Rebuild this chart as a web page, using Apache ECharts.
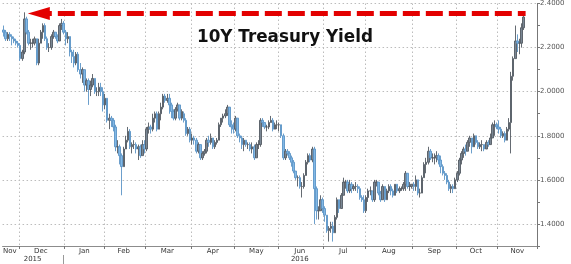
<!DOCTYPE html>
<html>
<head>
<meta charset="utf-8">
<script src="https://cdn.jsdelivr.net/npm/echarts@6/dist/echarts.min.js"></script>
<style>
html,body{margin:0;padding:0;background:#fff;}
#chart{width:571px;height:264px;}
</style>
</head>
<body>
<div id="chart"></div>
<script>
// Daily bars: [open, close, low, high]
const nov15 = [
[2.28,2.27,2.25,2.30],[2.27,2.24,2.23,2.28],[2.24,2.26,2.23,2.27],[2.26,2.25,2.23,2.27],
[2.25,2.24,2.21,2.26],[2.24,2.23,2.22,2.25],[2.23,2.22,2.21,2.24],[2.22,2.21,2.20,2.23]
];
const dec15 = [
[2.21,2.15,2.14,2.22],[2.15,2.18,2.14,2.19],[2.18,2.33,2.17,2.36],[2.33,2.27,2.26,2.34],
[2.27,2.22,2.21,2.28],[2.22,2.22,2.19,2.24],[2.22,2.22,2.20,2.24],[2.22,2.24,2.21,2.25],
[2.24,2.13,2.12,2.24],[2.13,2.22,2.12,2.24],[2.22,2.27,2.22,2.28],[2.27,2.30,2.24,2.31],
[2.30,2.24,2.23,2.31],[2.24,2.20,2.19,2.25],[2.20,2.20,2.18,2.22],[2.20,2.25,2.19,2.26],
[2.25,2.27,2.24,2.28],[2.27,2.25,2.24,2.27],[2.25,2.23,2.22,2.26],[2.23,2.30,2.23,2.31],
[2.30,2.31,2.28,2.33],[2.31,2.27,2.26,2.32]
];
const jan16 = [
[2.27,2.24,2.21,2.28],[2.24,2.25,2.22,2.27],[2.25,2.18,2.16,2.25],[2.18,2.16,2.13,2.19],
[2.16,2.13,2.11,2.19],[2.13,2.17,2.12,2.18],[2.17,2.10,2.09,2.18],[2.10,2.08,2.06,2.13],
[2.08,2.10,2.04,2.11],[2.10,2.03,2.00,2.10],[2.03,2.05,2.00,2.06],[2.05,2.01,1.94,2.06],
[2.01,2.03,1.98,2.05],[2.03,2.06,2.02,2.08],[2.06,2.00,1.99,2.06],[2.00,2.00,1.98,2.02],
[2.00,2.02,1.98,2.04],[2.02,2.00,1.98,2.04],[2.00,1.94,1.91,2.02]
];
const feb16 = [
[1.94,1.97,1.92,1.99],[1.97,1.87,1.86,1.97],[1.87,1.88,1.83,1.90],[1.88,1.87,1.84,1.89],
[1.87,1.84,1.82,1.88],[1.84,1.75,1.73,1.85],[1.75,1.75,1.72,1.78],[1.75,1.71,1.67,1.76],
[1.71,1.66,1.53,1.72],[1.66,1.74,1.66,1.75],[1.74,1.78,1.74,1.80],[1.78,1.82,1.77,1.84],
[1.82,1.75,1.74,1.83],[1.75,1.76,1.72,1.77],[1.76,1.76,1.74,1.78],[1.76,1.74,1.72,1.77],
[1.74,1.75,1.69,1.76],[1.75,1.71,1.70,1.76],[1.71,1.76,1.71,1.78],[1.76,1.74,1.72,1.78]
];
const mar16 = [
[1.74,1.83,1.73,1.84],[1.83,1.84,1.81,1.86],[1.84,1.83,1.81,1.85],[1.83,1.88,1.82,1.90],
[1.88,1.90,1.86,1.91],[1.90,1.83,1.82,1.91],[1.83,1.90,1.83,1.91],[1.90,1.93,1.87,1.95],
[1.93,1.98,1.92,1.99],[1.98,1.96,1.95,1.99],[1.96,1.97,1.95,1.99],[1.97,1.94,1.90,1.99],
[1.94,1.91,1.88,1.95],[1.91,1.88,1.87,1.92],[1.88,1.92,1.87,1.93],[1.92,1.94,1.91,1.95],
[1.94,1.88,1.87,1.94],[1.88,1.91,1.87,1.92],[1.90,1.87,1.86,1.91],[1.87,1.81,1.80,1.88],
[1.81,1.83,1.80,1.84],[1.83,1.78,1.77,1.84]
];
const apr16 = [
[1.78,1.79,1.76,1.81],[1.79,1.78,1.76,1.80],[1.78,1.73,1.72,1.79],[1.73,1.76,1.72,1.77],
[1.76,1.70,1.69,1.76],[1.70,1.72,1.69,1.73],[1.72,1.73,1.71,1.74],[1.73,1.78,1.72,1.79],
[1.78,1.77,1.75,1.80],[1.77,1.79,1.76,1.81],[1.79,1.75,1.74,1.79],[1.75,1.77,1.74,1.78],
[1.77,1.78,1.76,1.79],[1.78,1.85,1.78,1.86],[1.85,1.88,1.84,1.88],[1.88,1.89,1.86,1.90],
[1.89,1.90,1.88,1.92],[1.90,1.93,1.89,1.94],[1.93,1.85,1.84,1.93],[1.85,1.84,1.81,1.87],
[1.84,1.83,1.81,1.86]
];
const may16 = [
[1.83,1.88,1.82,1.89],[1.88,1.80,1.79,1.88],[1.80,1.79,1.77,1.81],[1.79,1.76,1.74,1.80],
[1.76,1.78,1.73,1.79],[1.78,1.76,1.75,1.78],[1.76,1.76,1.74,1.77],[1.76,1.74,1.73,1.77],
[1.74,1.75,1.72,1.77],[1.75,1.70,1.69,1.76],[1.70,1.76,1.70,1.77],[1.76,1.76,1.74,1.78],
[1.76,1.87,1.75,1.88],[1.87,1.86,1.84,1.88],[1.86,1.84,1.83,1.86],[1.84,1.84,1.82,1.85],
[1.84,1.86,1.83,1.87],[1.86,1.87,1.86,1.89],[1.87,1.83,1.82,1.88],[1.83,1.85,1.83,1.86],
[1.85,1.85,1.83,1.87]
];
const jun16 = [
[1.85,1.85,1.82,1.86],[1.85,1.80,1.79,1.85],[1.80,1.70,1.69,1.81],[1.70,1.73,1.69,1.74],
[1.73,1.72,1.71,1.74],[1.72,1.70,1.69,1.73],[1.70,1.68,1.66,1.71],[1.68,1.64,1.63,1.69],
[1.64,1.61,1.60,1.64],[1.61,1.61,1.57,1.62],[1.61,1.57,1.56,1.62],[1.57,1.57,1.52,1.59],
[1.57,1.62,1.56,1.63],[1.62,1.68,1.62,1.69],[1.68,1.71,1.67,1.72],[1.71,1.69,1.68,1.72],
[1.69,1.74,1.68,1.75],[1.74,1.56,1.40,1.75],[1.56,1.46,1.42,1.57],[1.46,1.46,1.42,1.48],
[1.46,1.51,1.46,1.53],[1.51,1.47,1.45,1.52]
];
const jul16 = [
[1.47,1.44,1.41,1.48],[1.44,1.37,1.36,1.44],[1.37,1.38,1.32,1.39],[1.38,1.39,1.36,1.41],
[1.39,1.36,1.32,1.41],[1.36,1.43,1.36,1.44],[1.43,1.51,1.42,1.52],[1.51,1.47,1.45,1.51],
[1.47,1.53,1.47,1.54],[1.53,1.59,1.53,1.61],[1.59,1.59,1.56,1.60],[1.59,1.55,1.54,1.60],
[1.55,1.58,1.54,1.60],[1.58,1.56,1.54,1.59],[1.56,1.57,1.55,1.58],[1.57,1.57,1.55,1.59],
[1.57,1.56,1.54,1.58],[1.56,1.52,1.51,1.57],[1.52,1.51,1.50,1.53],[1.51,1.46,1.45,1.53]
];
const aug16 = [
[1.46,1.52,1.45,1.53],[1.52,1.55,1.50,1.56],[1.55,1.55,1.53,1.57],[1.55,1.51,1.50,1.55],
[1.51,1.59,1.50,1.60],[1.59,1.59,1.57,1.60],[1.59,1.54,1.53,1.59],[1.54,1.51,1.50,1.55],
[1.51,1.57,1.51,1.58],[1.57,1.51,1.50,1.57],[1.51,1.55,1.51,1.56],[1.55,1.57,1.54,1.58],
[1.57,1.55,1.53,1.58],[1.55,1.53,1.52,1.56],[1.53,1.58,1.53,1.58],[1.58,1.55,1.54,1.58],
[1.55,1.56,1.54,1.57],[1.56,1.56,1.55,1.57],[1.56,1.58,1.55,1.59],[1.58,1.63,1.55,1.64],
[1.63,1.57,1.56,1.63],[1.57,1.57,1.55,1.59],[1.57,1.58,1.56,1.58]
];
const sep16 = [
[1.58,1.57,1.55,1.59],[1.57,1.60,1.55,1.62],[1.60,1.54,1.53,1.60],[1.54,1.54,1.52,1.56],
[1.54,1.61,1.54,1.62],[1.61,1.67,1.61,1.68],[1.67,1.68,1.63,1.70],[1.68,1.73,1.67,1.75],
[1.73,1.70,1.69,1.74],[1.70,1.70,1.68,1.72],[1.70,1.70,1.67,1.72],[1.70,1.71,1.68,1.73],
[1.71,1.69,1.67,1.72],[1.69,1.66,1.63,1.71],[1.66,1.63,1.62,1.67],[1.63,1.62,1.60,1.64],
[1.62,1.59,1.58,1.63],[1.59,1.56,1.55,1.60],[1.56,1.57,1.54,1.58],[1.57,1.56,1.54,1.58],
[1.56,1.60,1.56,1.61]
];
const oct16 = [
[1.60,1.63,1.59,1.64],[1.63,1.69,1.62,1.70],[1.69,1.72,1.67,1.73],[1.72,1.74,1.70,1.75],
[1.74,1.73,1.71,1.76],[1.73,1.77,1.73,1.78],[1.77,1.79,1.75,1.80],[1.79,1.75,1.72,1.79],
[1.75,1.80,1.75,1.81],[1.80,1.77,1.76,1.80],[1.77,1.75,1.74,1.78],[1.75,1.76,1.74,1.77],
[1.76,1.76,1.73,1.78],[1.76,1.74,1.73,1.76],[1.74,1.77,1.74,1.78],[1.77,1.76,1.75,1.78],
[1.76,1.79,1.76,1.81],[1.79,1.85,1.79,1.86],[1.85,1.85,1.80,1.87],[1.85,1.84,1.83,1.86]
];
const nov16 = [
[1.84,1.83,1.81,1.87],[1.83,1.80,1.79,1.84],[1.80,1.81,1.79,1.82],[1.81,1.78,1.77,1.82],
[1.78,1.83,1.78,1.84],[1.83,1.86,1.82,1.88],[1.86,2.07,1.72,2.09],[2.07,2.15,2.05,2.16],
[2.15,2.23,2.15,2.30],[2.23,2.22,2.18,2.26],[2.22,2.22,2.17,2.24],[2.22,2.29,2.20,2.31],
[2.29,2.3387,2.28,2.35]
];

const monthNames = ['Nov','Dec','Jan','Feb','Mar','Apr','May','Jun','Jul','Aug','Sep','Oct','Nov'];
const monthYears = ['2015','2015','2016','2016','2016','2016','2016','2016','2016','2016','2016','2016','2016'];
const monthBars = [nov15,dec15,jan16,feb16,mar16,apr16,may16,jun16,jul16,aug16,sep16,oct16,nov16];
const emptyDaysAtEnd = 6;          // axis runs a few trading days past the last bar
const lastValue = 2.3387;          // current-value tag on the axis
const arrowLevel = 2.355;          // level of the red dashed arrow
const arrowStartIdx = 17;
const arrowEndIdx = 252;
const yTicks = [1.4,1.6,1.8,2.0,2.2,2.4];

// build categories / series from the arrays
const categories = [], bars = [], monthStart = [], monthLabelIdx = {}, yearInfo = {};
monthBars.forEach((m, b) => {
  const start = categories.length;
  const len = m.length + (b === monthBars.length - 1 ? emptyDaysAtEnd : 0);
  monthStart.push(start);
  for (let j = 0; j < len; j++) {
    categories.push(monthNames[b] + ' ' + monthYears[b] + ' #' + j);
    bars.push(j < m.length ? m[j] : '-');
  }
  monthLabelIdx[start + Math.floor((len - 1) / 2)] = monthNames[b];
  const y = monthYears[b];
  if (!yearInfo[y]) yearInfo[y] = {start: start, end: start + len - 1};
  yearInfo[y].end = start + len - 1;
});
const yearLabelIdx = {}, yearSepIdx = {};
Object.keys(yearInfo).forEach((y, k) => {
  const r = yearInfo[y];
  yearLabelIdx[Math.floor((r.start + r.end) / 2)] = y;
  if (k > 0) yearSepIdx[r.start - 1] = true;   // separator at last bar of previous year
});
const boundary = {};
monthStart.forEach(s => { if (s > 0) boundary[s] = true; });

const chart = echarts.init(document.getElementById('chart'), null, {renderer: 'canvas'});
const FONT = 'DejaVu Sans';
chart.setOption({
  animation: false,
  backgroundColor: '#ffffff',
  title: {
    text: '10Y Treasury Yield',
    left: 197, top: 29, padding: 0,
    textStyle: {fontFamily: FONT, fontWeight: 'bold', fontSize: 16.8, lineHeight: 18, color: '#111'}
  },
  grid: {left: 0, right: 34, top: 3, bottom: 18},
  xAxis: [{
    type: 'category', data: categories, boundaryGap: true,
    axisLine: {show: true, lineStyle: {color: '#8c8c8c', width: 1}},
    axisTick: {show: true, length: 3, interval: (i) => !!boundary[i], lineStyle: {color: '#777'}},
    axisLabel: {show: true, interval: (i) => monthLabelIdx[i] !== undefined,
      formatter: (v, i) => monthLabelIdx[i] || '', fontFamily: FONT, fontSize: 7, color: '#333', margin: 2},
    splitLine: {show: true, interval: (i) => !!boundary[i], lineStyle: {type: [1.5, 2.5], color: '#bcbcbc', width: 1}}
  }, {
    type: 'category', data: categories, boundaryGap: true, position: 'bottom', offset: 9,
    axisLine: {show: false},
    axisTick: {show: true, length: 9, alignWithLabel: true, interval: (i) => !!yearSepIdx[i], lineStyle: {color: '#999'}},
    axisLabel: {show: true, interval: (i) => yearLabelIdx[i] !== undefined,
      formatter: (v, i) => yearLabelIdx[i] || '', fontFamily: FONT, fontSize: 7, color: '#333', margin: 1},
    splitLine: {show: false}
  }],
  yAxis: {
    type: 'value', position: 'right', min: 1.3, max: 2.4, interval: 0.1,
    axisLine: {show: true, lineStyle: {color: '#777'}},
    axisTick: {show: true, length: 3, lineStyle: {color: '#777'}},
    axisLabel: {fontFamily: FONT, fontSize: 7, color: '#555', margin: 3,
      formatter: (v) => yTicks.some(t => Math.abs(t - v) < 1e-6) ? v.toFixed(4) : ''},
    splitLine: {show: true, lineStyle: {type: [1.5, 2.5], width: 1,
      color: ['rgba(0,0,0,0)', '#bcbcbc']}}
  },
  series: [{
    type: 'candlestick',
    xAxisIndex: 0,
    data: bars,
    barWidth: 2,
    itemStyle: {
      color: '#7a8794', borderColor: '#535a62',
      color0: '#82b8e6', borderColor0: '#5b94c6',
      borderWidth: 0.9
    },
    markLine: {
      silent: true,
      symbol: ['none', 'none'],
      data: [
        [
          {coord: [arrowStartIdx, arrowLevel], symbol: 'triangle', symbolSize: [13, 22],
           lineStyle: {color: '#e30000', width: 5, type: [17, 6], dashOffset: 4, cap: 'butt', opacity: 1},
           label: {show: false}},
          {coord: [arrowEndIdx, arrowLevel], symbol: 'none'}
        ],
        {yAxis: lastValue, symbol: 'none',
         lineStyle: {opacity: 0, width: 0},
         label: {show: true, position: 'end', distance: 4, formatter: lastValue.toFixed(4),
           backgroundColor: '#111', color: '#fff', fontFamily: FONT, fontSize: 7,
           padding: [1, 2, 1, 2], borderRadius: 2}}
      ]
    }
  }]
});
</script>
</body>
</html>
